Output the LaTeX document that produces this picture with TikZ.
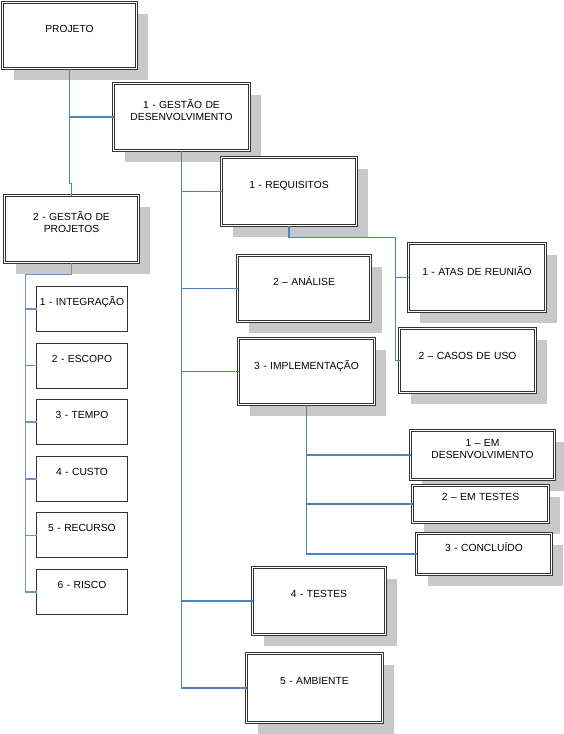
\documentclass[tikz,border=0pt]{standalone}
\usepackage{fontspec}
\setmainfont{Liberation Sans}
\usetikzlibrary{positioning,shadows}
\definecolor{wbsblue}{HTML}{4F81BD}
\definecolor{wbsgray}{HTML}{C8C8C8}
\definecolor{wbsline}{HTML}{333333}

\begin{document}
\begin{tikzpicture}[x=1pt, y=-1pt,
    wbs/.style={draw=wbsline, line width=1.1pt, double=white, double distance=1.4pt, fill=white, anchor=north west, align=center, inner xsep=2pt, inner ysep=0pt, outer sep=0pt, font=\fontsize{10.3}{12}\selectfont, drop shadow={shadow xshift=11pt, shadow yshift=-11pt, fill=wbsgray, opacity=1}},
    task/.style={draw=wbsline, line width=1pt, fill=white, align=center, inner xsep=2pt, inner ysep=0pt, outer sep=0pt, font=\fontsize{10.3}{12}\selectfont, text width=87pt, text height=19pt, text depth=26pt},
    dims/.style n args={3}{text width=#1pt, text height=#2pt, text depth=#3pt},
    link/.style={draw=wbsblue, line width=1.2pt},
    sublink/.style={draw=wbsblue!85, line width=1.6pt},
]
    \useasboundingbox (0,0) rectangle (564,734);

    \node[wbs, dims={130}{30}{36}] (proj) at (2.5,2.5) {PROJETO};
    \node[wbs, dims={132}{25}{42}] (gdes) at (113.5,83.5) {1 - GESTÃO DE\\DESENVOLVIMENTO};
    \node[wbs, dims={131}{31}{37}] (req) at (221.5,157.5) {1 - REQUISITOS};
    \node[wbs, dims={130}{25}{42}] (gproj) at (4.5,195.5) {2 - GESTÃO DE\\PROJETOS};
    \node[wbs, dims={133}{32}{36}] (atas) at (408.5,243.5) {1 - ATAS DE REUNIÃO};
    \node[wbs, dims={129}{30}{36}] (anal) at (237.5,255.5) {2 – ANÁLISE};
    \node[wbs, dims={132}{31}{33}] (casos) at (399.5,328.5) {2 – CASOS DE USO};
    \node[wbs, dims={132}{31}{35}] (impl) at (238.5,338.5) {3 - IMPLEMENTAÇÃO};
    \node[wbs, dims={140}{16}{33}] (emdes) at (410.5,430.5) {1 – EM\\DESENVOLVIMENTO};
    \node[wbs, dims={132}{15}{22}] (emtes) at (412.5,485.5) {2 – EM TESTES};
    \node[wbs, dims={131}{18}{23}] (concl) at (416.5,533.5) {3 - CONCLUÍDO};
    \node[wbs, dims={129}{30}{37}] (testes) at (252.5,567.5) {4 - TESTES};
    \node[wbs, dims={132}{31}{38}] (amb) at (246.5,653.5) {5 - AMBIENTE};

    \node[task, anchor=north west] (integ) at (36.5,286.5) {1 - INTEGRAÇÃO};
    \node[task, below=11.6pt of integ] (escopo) {2 - ESCOPO};
    \node[task, below=11.6pt of escopo] (tempo) {3 - TEMPO};
    \node[task, below=11.6pt of tempo] (custo) {4 - CUSTO};
    \node[task, below=11.6pt of custo] (recurso) {5 - RECURSO};
    \node[task, below=11.6pt of recurso] (risco) {6 - RISCO};

    \draw[link] (proj.south) |- (gdes.west);
    \draw[link] (proj.south) |- ([yshift=12pt]gproj.north) -- (gproj.north);

    \draw[link] (gdes.south) |- (req.west);
    \draw[link] (gdes.south) |- (anal.west);
    \draw[link] (gdes.south) |- (impl.west);
    \draw[link] (gdes.south) |- (testes.west);
    \draw[link] (gdes.south) |- (amb.west);

    \coordinate (reqbus) at ([xshift=-4pt]casos.west);
    \draw[link] (req.south) -- ++(0,12) -| (reqbus) -- (casos.west);
    \draw[link] (reqbus |- atas.west) -- (atas.west);

    \draw[link] (impl.south) |- (emdes.west);
    \draw[link] (impl.south) |- (emtes.west);
    \draw[link] (impl.south) |- (concl.west);

    \coordinate (projbus) at ([xshift=-11pt]risco.west);
    \draw[sublink] (gproj.south) -- ++(0,12) -| (projbus) -- (risco.west);
    \draw[sublink] (projbus |- integ.west) -- (integ.west);
    \draw[sublink] (projbus |- escopo.west) -- (escopo.west);
    \draw[sublink] (projbus |- tempo.west) -- (tempo.west);
    \draw[sublink] (projbus |- custo.west) -- (custo.west);
    \draw[sublink] (projbus |- recurso.west) -- (recurso.west);
\end{tikzpicture}
\end{document}
